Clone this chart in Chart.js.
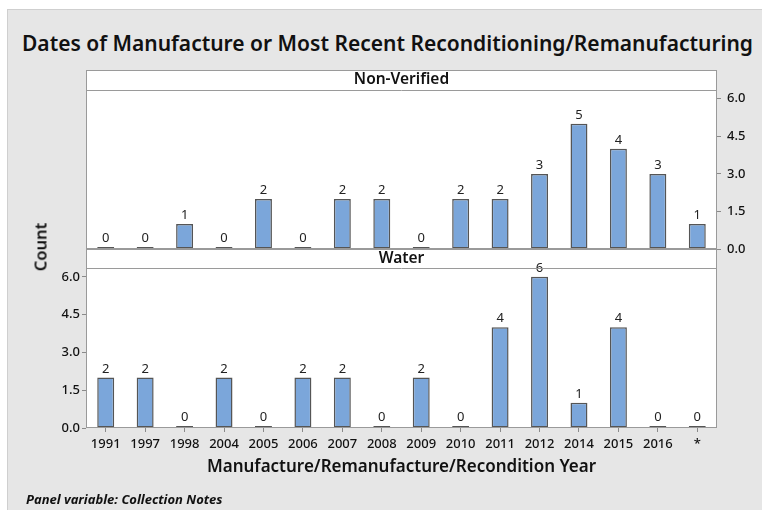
<!DOCTYPE html>
<html>
<head>
<meta charset="utf-8">
<script src="https://cdn.jsdelivr.net/npm/chart.js@4/dist/chart.umd.min.js"></script>
<style>
  html, body { margin: 0; padding: 0; background: #fff; }
  #wrap { position: relative; width: 762px; height: 510px; overflow: hidden; font-family: "Noto Sans", "Open Sans", sans-serif; }
  #frame { position: absolute; left: 7px; top: 9px; width: 755px; height: 501px; background: #e6e6e6; border-left: 1px solid #cfcfcf; border-top: 1px solid #cfcfcf; }
  canvas { position: absolute; left: 0; top: 0; }
  #title { position: absolute; left: 0; top: 29px; width: 775px; text-align: center; font-size: 21px; font-weight: 600; color: #111; white-space: nowrap; }
  #ylab { position: absolute; left: 40px; top: 247px; transform: translate(-50%, -50%) rotate(-90deg); font-size: 16.5px; font-weight: 600; color: #111; }
  #note { position: absolute; left: 26px; top: 490px; font-size: 13px; font-weight: 700; font-style: italic; color: #111; }
</style>
</head>
<body>
<div id="wrap">
  <div id="frame"></div>
  <div id="title">Dates of Manufacture or Most Recent Reconditioning/Remanufacturing</div>
  <canvas id="topPanel" width="762" height="510"></canvas>
  <canvas id="bottomPanel" width="762" height="510"></canvas>
  <div id="ylab">Count</div>
  <div id="note">Panel variable: Collection Notes</div>
</div>
<script>
// years on the x axis ('*' = missing)
var years = ['1991', '1997', '1998', '2004', '2005', '2006', '2007', '2008', '2009', '2010', '2011', '2012', '2014', '2015', '2016', '*'];
// counts per panel
var nonVerified = [0, 0, 1, 0, 2, 0, 2, 2, 0, 2, 2, 3, 5, 4, 3, 1];
var water = [2, 2, 0, 2, 0, 2, 2, 0, 2, 0, 4, 6, 1, 4, 0, 0];
var countTicks = [0, 1.5, 3, 4.5, 6];

var FONT = '"Noto Sans", "Open Sans", sans-serif';
var BAR_FILL = '#7ba6da';
var BAR_LINE = '#555555';
var PANEL_LINE = '#9a9a9a';

// white plot area, panel strip and box around it
function panelPlugin(stripLabel, stripHeight) {
    return {
        id: 'panel',
        beforeDraw: function (chart) {
            var ctx = chart.ctx, a = chart.chartArea;
            ctx.save();
            ctx.fillStyle = '#ffffff';
            ctx.fillRect(a.left, a.top - stripHeight, a.right - a.left, a.bottom - a.top + stripHeight);
            ctx.restore();
        },
        afterDraw: function (chart) {
            var ctx = chart.ctx, a = chart.chartArea;
            ctx.save();
            ctx.strokeStyle = PANEL_LINE;
            ctx.lineWidth = 1;
            ctx.strokeRect(a.left + 0.5, a.top - stripHeight + 0.5, a.right - a.left - 1, a.bottom - a.top + stripHeight - 1);
            ctx.beginPath();
            ctx.moveTo(a.left, a.top + 0.5);
            ctx.lineTo(a.right, a.top + 0.5);
            ctx.stroke();
            ctx.fillStyle = '#111';
            ctx.font = '600 15.5px ' + FONT;
            ctx.textAlign = 'center';
            ctx.textBaseline = 'middle';
            ctx.fillText(stripLabel, (a.left + a.right) / 2, a.top - stripHeight / 2);
            ctx.restore();
        }
    };
}

// value labels above every bar
var barLabels = {
    id: 'barLabels',
    afterDatasetsDraw: function (chart) {
        var ctx = chart.ctx;
        ctx.save();
        ctx.fillStyle = '#222';
        ctx.font = '13px ' + FONT;
        ctx.textAlign = 'center';
        ctx.textBaseline = 'bottom';
        chart.data.datasets.forEach(function (ds, i) {
            chart.getDatasetMeta(i).data.forEach(function (bar, j) {
                ctx.fillText(String(ds.data[j]), bar.x, bar.y - 2);
            });
        });
        ctx.restore();
    }
};

function countAxis(position, width, pad) {
    return {
        position: position,
        min: 0,
        max: 6.35,
        afterBuildTicks: function (scale) {
            scale.ticks = countTicks.map(function (v) { return { value: v }; });
        },
        afterFit: function (scale) { scale.width = width; },
        border: { display: false },
        grid: { drawOnChartArea: false, drawTicks: true, tickLength: 4, color: '#8a8a8a' },
        ticks: {
            padding: pad,
            color: '#111',
            font: { family: FONT, size: 13, weight: '500' },
            callback: function (v) { return Number(v).toFixed(1); }
        }
    };
}

function barDataset(values) {
    return {
        data: values,
        backgroundColor: BAR_FILL,
        borderColor: BAR_LINE,
        borderWidth: 1.5,
        borderSkipped: false,
        minBarLength: 2,
        categoryPercentage: 1,
        barPercentage: 0.43
    };
}

var common = {
    responsive: false,
    devicePixelRatio: 1,
    animation: false,
    plugins: { legend: { display: false }, tooltip: { enabled: false } }
};

new Chart(document.getElementById('topPanel').getContext('2d'), {
    type: 'bar',
    data: { labels: years, datasets: [barDataset(nonVerified)] },
    options: Object.assign({}, common, {
        layout: { padding: { left: 86, right: 0, top: 90, bottom: 261 } },
        scales: {
            x: { display: false },
            y: countAxis('right', 45, 6)
        }
    }),
    plugins: [panelPlugin('Non-Verified', 20), barLabels]
});

new Chart(document.getElementById('bottomPanel').getContext('2d'), {
    type: 'bar',
    data: { labels: years, datasets: [barDataset(water)] },
    options: Object.assign({}, common, {
        layout: { padding: { left: 36, right: 45, top: 268, bottom: 29 } },
        scales: {
            x: {
                afterFit: function (scale) { scale.height = 53; },
                border: { display: false },
                grid: { offset: false, drawOnChartArea: false, drawTicks: true, tickLength: 4, color: '#8a8a8a' },
                ticks: { padding: 4, color: '#111', maxRotation: 0, autoSkip: false, font: { family: FONT, size: 13, weight: '500' } },
                title: {
                    display: true,
                    text: 'Manufacture/Remanufacture/Recondition Year',
                    color: '#111',
                    font: { family: FONT, size: 17, weight: '600' },
                    padding: { top: 2, bottom: 4 }
                }
            },
            y: countAxis('left', 50, 2)
        }
    }),
    plugins: [panelPlugin('Water', 19), barLabels]
});
</script>
</body>
</html>
